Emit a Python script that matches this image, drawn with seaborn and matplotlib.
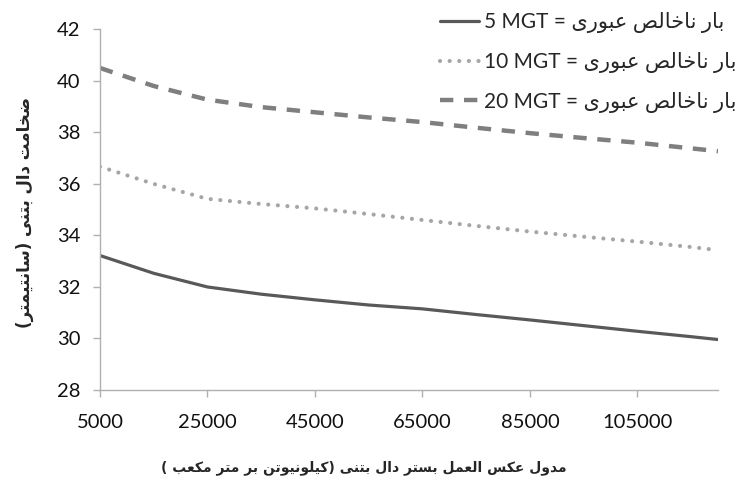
import matplotlib
matplotlib.use("Agg")
import matplotlib.pyplot as plt
import seaborn as sns
import pandas as pd

# modulus of subgrade reaction (kN/m3)
modulus = [5000, 15000, 25000, 35000, 45000, 55000, 65000, 75000, 85000, 95000, 105000, 115000, 120000]

# slab thickness (cm) per traffic load
thick_5 = [33.22, 32.53, 32.00, 31.72, 31.50, 31.30, 31.15, 30.93, 30.72, 30.50, 30.28, 30.07, 29.96]
thick_10 = [36.67, 36.00, 35.42, 35.22, 35.05, 34.83, 34.60, 34.37, 34.15, 33.95, 33.76, 33.55, 33.43]
thick_20 = [40.50, 39.80, 39.27, 38.98, 38.78, 38.58, 38.40, 38.18, 37.97, 37.78, 37.60, 37.38, 37.27]

loads = ["5 MGT", "10 MGT", "20 MGT"]
legend_prefix = "بار ناخالص عبوری"
x_title = "مدول عکس العمل بستر دال بتنی (کیلونیوتن بر متر مکعب )"
y_title = "ضخامت دال بتنی (سانتیمتر)"
x_ticks = [5000, 25000, 45000, 65000, 85000, 105000]
y_ticks = [28, 30, 32, 34, 36, 38, 40, 42]


# matplotlib has no bidi / shaping, so do a small Persian shaper by hand
FORMS = {
    "ا": (0xFE8D, 0xFE8E, 0xFE8D, 0xFE8E),
    "ب": (0xFE8F, 0xFE90, 0xFE91, 0xFE92),
    "ت": (0xFE95, 0xFE96, 0xFE97, 0xFE98),
    "خ": (0xFEA5, 0xFEA6, 0xFEA7, 0xFEA8),
    "د": (0xFEA9, 0xFEAA, 0xFEA9, 0xFEAA),
    "ر": (0xFEAD, 0xFEAE, 0xFEAD, 0xFEAE),
    "س": (0xFEB1, 0xFEB2, 0xFEB3, 0xFEB4),
    "ص": (0xFEB9, 0xFEBA, 0xFEBB, 0xFEBC),
    "ض": (0xFEBD, 0xFEBE, 0xFEBF, 0xFEC0),
    "ع": (0xFEC9, 0xFECA, 0xFECB, 0xFECC),
    "ل": (0xFEDD, 0xFEDE, 0xFEDF, 0xFEE0),
    "م": (0xFEE1, 0xFEE2, 0xFEE3, 0xFEE4),
    "ن": (0xFEE5, 0xFEE6, 0xFEE7, 0xFEE8),
    "و": (0xFEED, 0xFEEE, 0xFEED, 0xFEEE),
    "ی": (0xFBFC, 0xFBFD, 0xFBFE, 0xFBFF),
    "ک": (0xFB8E, 0xFB8F, 0xFB90, 0xFB91),
}
RIGHT_ONLY = set("ادذرزژو")


def rtl(text):
    out = []
    for i, ch in enumerate(text):
        if ch not in FORMS:
            out.append(ch)
            continue
        prev = text[i - 1] if i > 0 else None
        nxt = text[i + 1] if i + 1 < len(text) else None
        jp = prev in FORMS and prev not in RIGHT_ONLY
        jn = nxt in FORMS and ch not in RIGHT_ONLY
        iso, fin, ini, med = FORMS[ch]
        out.append(chr(med if jp and jn else fin if jp else ini if jn else iso))
    vis = "".join(reversed(out))
    return vis.translate(str.maketrans("()", ")("))


sns.set_style("ticks")
plt.rcParams["font.family"] = ["Lato", "DejaVu Sans"]

df = pd.DataFrame({
    "modulus": modulus * 3,
    "thickness": thick_5 + thick_10 + thick_20,
    "load": [loads[0]] * len(modulus) + [loads[1]] * len(modulus) + [loads[2]] * len(modulus),
})

fig = plt.figure(figsize=(7.39, 4.83), dpi=100)
ax = fig.add_axes([0.1353, 0.1925, 0.8363, 0.7468])

styles = {
    "5 MGT": dict(color="#595959", lw=2.3, linestyle="-"),
    "10 MGT": dict(color="#A6A6A6", lw=3.0, linestyle=(0, (0.01, 2.3)), dash_capstyle="round"),
    "20 MGT": dict(color="#7F7F7F", lw=3.2, linestyle=(0, (3.0, 2.4))),
}
for load in loads:
    sub = df[df["load"] == load]
    sns.lineplot(data=sub, x="modulus", y="thickness", ax=ax,
                 label=load + " = " + rtl(legend_prefix), **styles[load])

ax.set_xlim(5000, 120000)
ax.set_ylim(28, 42)
ax.set_xticks(x_ticks)
ax.set_yticks(y_ticks)
ax.tick_params(axis="both", labelsize=14.5, length=5, width=1, color="#B0B0B0", labelcolor="#111111")
ax.tick_params(axis="x", pad=12)
ax.tick_params(axis="y", pad=9)

for side in ["top", "right"]:
    ax.spines[side].set_visible(False)
for side in ["left", "bottom"]:
    ax.spines[side].set_color("#B0B0B0")
    ax.spines[side].set_linewidth(1)

ax.set_xlabel(rtl(x_title), family=["DejaVu Sans"], fontweight="bold", fontsize=10)
ax.xaxis.set_label_coords(0.427, -0.216)
ax.xaxis.label.set_verticalalignment("center")
ax.set_ylabel(rtl(y_title), family=["DejaVu Sans"], fontweight="bold", fontsize=12)
ax.yaxis.set_label_coords(-0.121, 0.493)
ax.yaxis.label.set_verticalalignment("center")

ax.legend(loc="upper right", bbox_to_anchor=(737 / 739, 0.975), bbox_transform=fig.transFigure,
          frameon=False, fontsize=15, handlelength=1.9, handletextpad=0.25,
          labelspacing=0.9, borderpad=0, borderaxespad=0)

fig.savefig("out.png", dpi=100)
